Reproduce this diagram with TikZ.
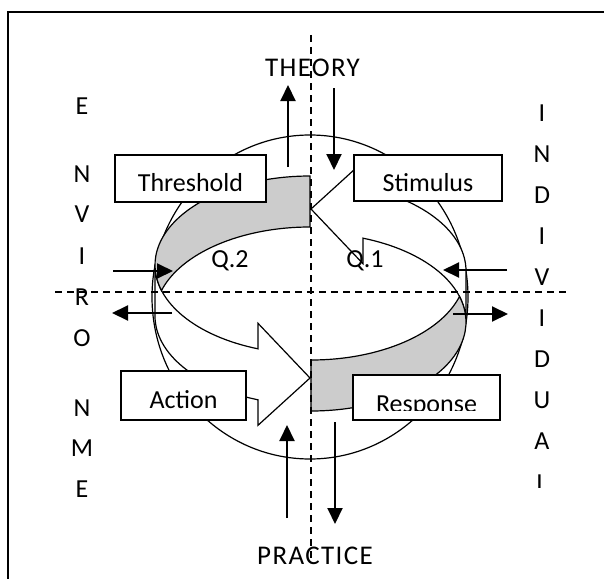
\documentclass[tikz,border=0pt]{standalone}
\usepackage{fontspec}
\setmainfont{Carlito}
\usetikzlibrary{arrows.meta}

\begin{document}
\begin{tikzpicture}[x=1pt,y=-1pt,line width=1.2pt,
    every node/.style={font=\fontsize{26}{30}\selectfont,inner sep=0pt},
    letter/.style={anchor=base},
    heading/.style={anchor=base,font=\fontsize{27}{30}\selectfont\addfontfeatures{LetterSpace=5}},
    labelbox/.style={draw,fill=white,line width=1.3pt,minimum height=47pt,text height=26pt,text depth=0pt},
    flow/.style={line width=2pt,-{Triangle[length=16pt,width=15pt]}},
    axisline/.style={line width=1.2pt,dash pattern=on 7pt off 5pt},
    frontband/.style={fill=white},
    backband/.style={fill=black!20}]

  \useasboundingbox (0,0) rectangle (604,578);
  \clip (0,0) rectangle (604,578);

  % The outer frame
  \draw[line width=1.5pt] (8,12) rectangle (640,620);

  % Letters down both sides
  \foreach \ch/\yy [count=\i] in {E/114,N/182,V/222,I/264,R/305,O/346,N/416,M/456,E/497}
    \node[letter] (env\i) at (82,\yy) {\ch};
  \foreach \ch [count=\i] in {I,N,D,I,V,I,D,U,A}
    \node[letter] (ind\i) at (542,80.5+41*\i) {\ch};
  \begin{scope}
    \clip (520,440) rectangle (565,487);
    \node[letter] (ind10) at (542,491.5) {L};
  \end{scope}

  \node[heading] (theory) at (312.5,76) {THEORY};
  \node[heading] (practice) at (315,564) {PRACTICE};

  % The circle
  \draw (310,297) ellipse [x radius=158,y radius=162];

  % The two curved arrows, the second one turned half round
  \foreach \turn in {0,180}{
    \begin{scope}[rotate around={\turn:(310.5,293.5)}]
      \filldraw[frontband] (155,265)
        arc[start angle=180,end angle=109.6,x radius=155,y radius=89]
        -- (258,323.3) -- (310,378) -- (258,425.3) -- (258,399.8)
        arc[start angle=109.6,end angle=180,x radius=155,y radius=89] -- cycle;
      \filldraw[backband] (310,227)
        arc[start angle=270,end angle=196.65,x radius=155,y radius=89]
        arc[start angle=163.35,end angle=270,x radius=155,y radius=89] -- cycle;
    \end{scope}
  }

  \node[letter] (q2) at (230,267) {Q.2};
  \node[letter] (q1) at (365,267) {Q.1};

  % Dashed axes
  \coordinate (vtop) at (311,35);
  \coordinate (vbot) at (311,563);
  \coordinate (hleft) at (55,292);
  \coordinate (hright) at (567,292);
  \draw[axisline] (vtop) -- (vbot);
  \draw[axisline] (hleft) -- (hright);

  % Straight arrows in and out
  \foreach \a/\b/\c/\d [count=\i] in {288/167/288/85,334/88/334/170,287/518/287/425,335/422/335/524,
      113/271/173/271,172/313/112/313,507/270/443/270,453/314/508/314}{
    \coordinate (from\i) at (\a,\b);
    \coordinate (to\i) at (\c,\d);
    \draw[flow] (from\i) -- (to\i);
  }

  % Boxes
  \node[labelbox,minimum width=151pt] (threshold) at (190.5,178.5) {Threshold};
  \node[labelbox,minimum width=148pt,minimum height=46pt] (stimulus) at (428,178) {Stimulus};
  \node[labelbox,minimum width=125pt,minimum height=49pt] (action) at (183.5,395.5) {Action};
  \node[labelbox,minimum width=147pt,minimum height=45pt] (response) at (426.5,397.5) {};
  \begin{scope}
    \clip (response.north west) rectangle ([yshift=10pt]response.south east);
    \node[letter] (responsetext) at (426.5,412) {Response};
  \end{scope}

\end{tikzpicture}
\end{document}
